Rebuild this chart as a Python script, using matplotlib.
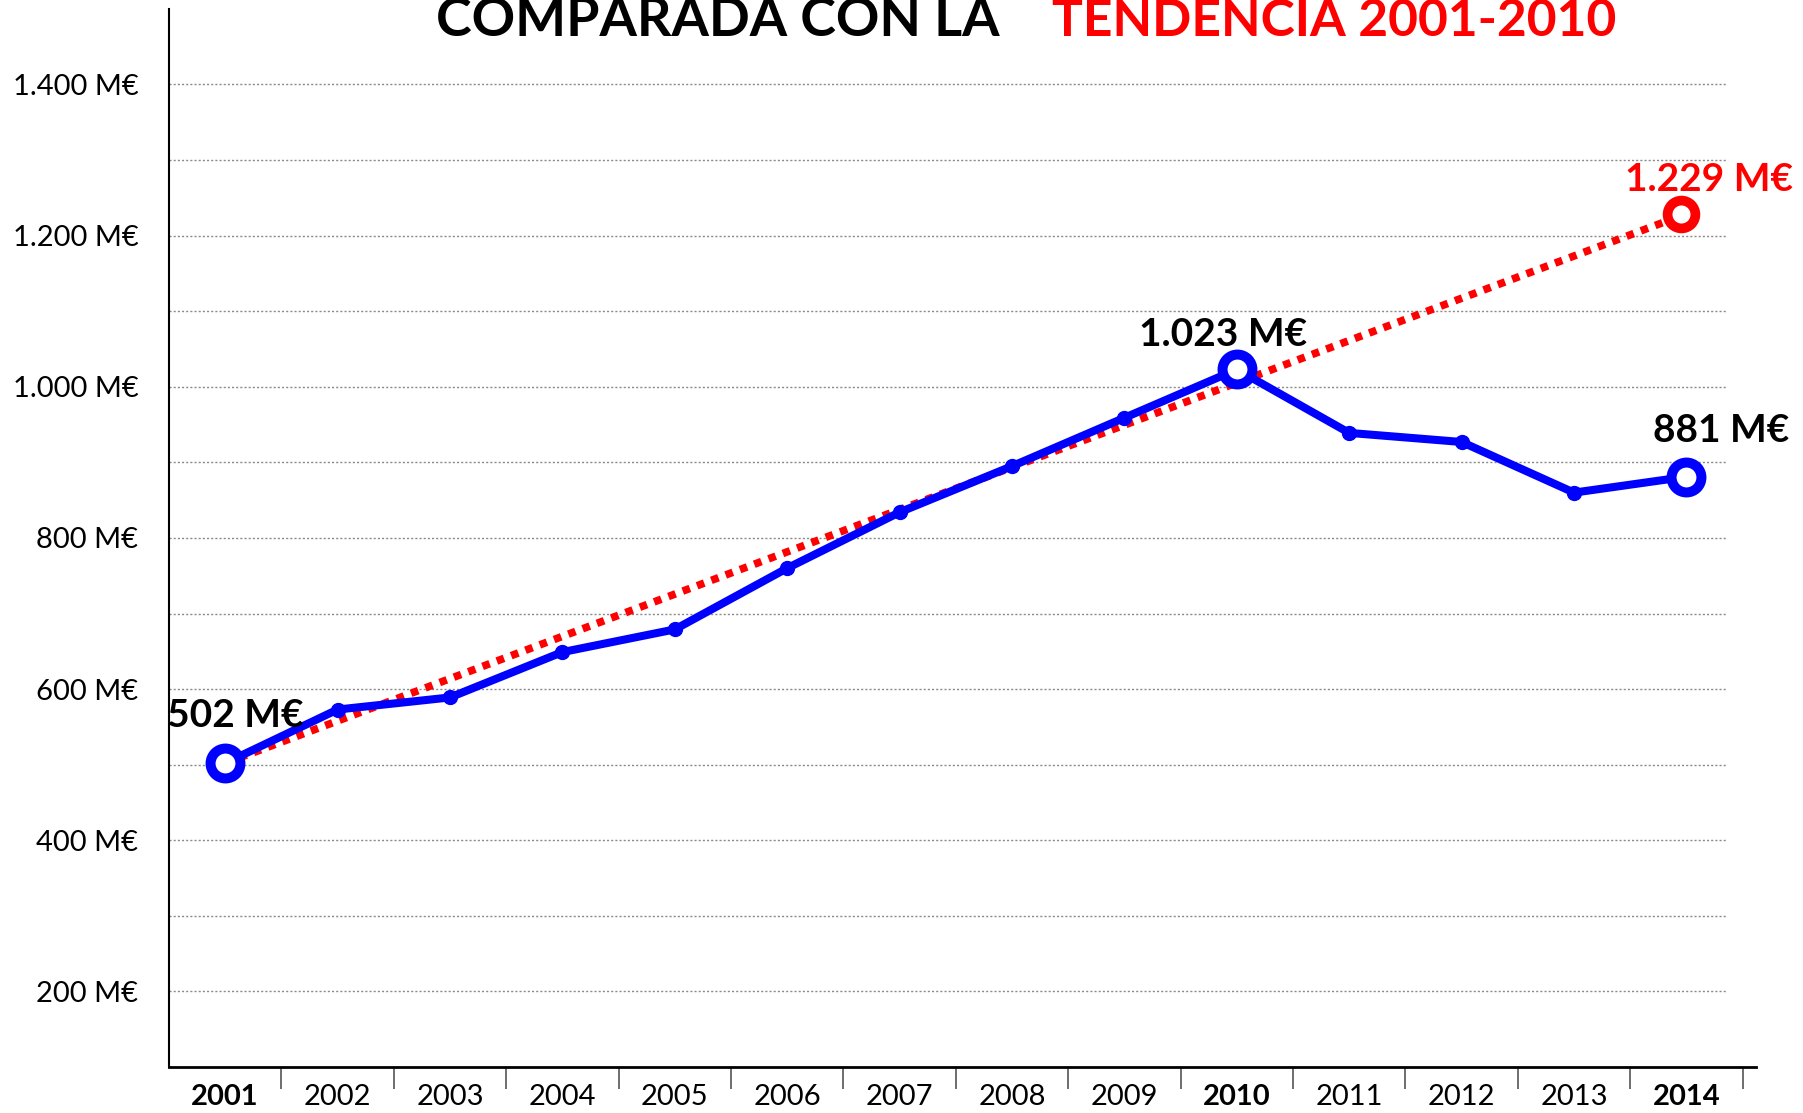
import matplotlib
matplotlib.use("Agg")
from matplotlib import pyplot as plt

years = [2001, 2002, 2003, 2004, 2005, 2006, 2007, 2008, 2009, 2010, 2011, 2012, 2013, 2014]
spending = [502, 573, 589, 649, 679, 760, 834, 895, 959, 1023, 939, 927, 860, 881]
trend_years = [2001, 2014]
trend_values = [502, 1229]
highlight_years = [2001, 2010, 2014]
yticks = [200, 400, 600, 800, 1000, 1200, 1400]
grid_values = [200, 300, 400, 500, 600, 700, 800, 900, 1000, 1100, 1200, 1300, 1400]

plt.rcParams['font.family'] = ['Lato', 'DejaVu Sans']

fig = plt.figure(figsize=(18.03, 11.13), dpi=100)
ax = fig.add_axes([0.0937, 0.0413, 0.974 - 0.0937, 0.992 - 0.0413])

pos = {y: i for i, y in enumerate(years)}
x = [pos[y] for y in years]

ax.hlines(grid_values, -0.5, 13.35, colors='#8a8a8a', linestyles=(0, (1.5, 1.5)), lw=1, zorder=0)

# trend 2001-2010 extended to 2014
tx = [pos[y] for y in trend_years]
ax.plot(tx, trend_values, color='#ff0000', lw=5.5, dashes=(1, 1), dash_capstyle='butt', zorder=2)
ax.plot(tx[-1] - 0.05, trend_values[-1], 'o', ms=20, mfc='white', mec='#ff0000', mew=7, zorder=5)

ax.plot(x, spending, color='#0000ff', lw=5.8, marker='o', ms=10, zorder=3)
for y in highlight_years:
    ax.plot(pos[y], spending[pos[y]], 'o', ms=21.5, mfc='white', mec='#0000ff', mew=7.2, zorder=4)

lbl = dict(fontsize=28, fontweight='bold', ha='center', va='center', textcoords='offset points')
ax.annotate('502 M€', (pos[2001], spending[0]), xytext=(7, 34), **lbl)
ax.annotate('1.023 M€', (pos[2010], spending[9]), xytext=(-10, 25), **lbl)
ax.annotate('881 M€', (pos[2014], spending[13]), xytext=(25, 33), **lbl)
ax.annotate('1.229 M€', (tx[-1] - 0.05, trend_values[-1]), xytext=(20, 25), color='#ff0000', **lbl)

ax.set_xlim(-0.5, 13.62)
ax.set_ylim(100, 1500)
ax.set_yticks(yticks)
ax.set_yticklabels([f'{v:,} M€'.replace(',', '.') for v in yticks], fontsize=21)
ax.tick_params(axis='y', length=0, pad=22)

ax.set_xticks(x)
ax.set_xticklabels([str(y) for y in years], fontsize=21)
for t, y in zip(ax.get_xticklabels(), years):
    if y in highlight_years:
        t.set_fontweight('bold')
ax.set_xticks([i + 0.5 for i in range(14)], minor=True)
ax.tick_params(axis='x', which='major', length=0, pad=12)
ax.tick_params(axis='x', which='minor', length=16, width=1.2, color='#555555', direction='out')

for s in ['top', 'right']:
    ax.spines[s].set_visible(False)
ax.spines['left'].set_linewidth(1.5)
ax.spines['bottom'].set_linewidth(2)

# title, cut off at the top like the original
base = 1 - 36 / 1113
t1 = fig.text(1000 / 1803, base, 'COMPARADA CON LA', ha='right', va='baseline',
              fontsize=40, fontweight='bold')
t2 = fig.text(1052 / 1803, base, 'TENDENCIA 2001-2010', ha='left', va='baseline',
              fontsize=40, fontweight='bold', color='#ff0000')
r = fig.canvas.get_renderer()
for t, w in [(t1, 563), (t2, 564)]:
    t.set_fontsize(40 * w / t.get_window_extent(r).width)

fig.savefig('out.png', dpi=100)
